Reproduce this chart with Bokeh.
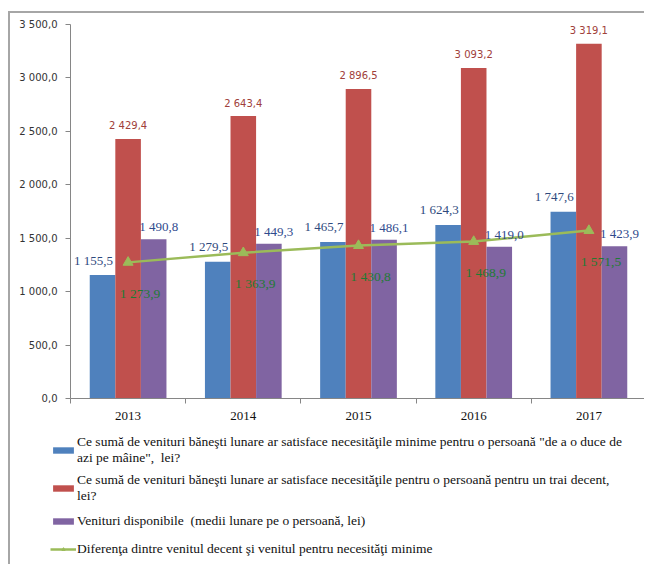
from bokeh.plotting import figure
from bokeh.models import FixedTicker, Legend, LegendItem, ColumnDataSource
from bokeh.transform import dodge
from bokeh.embed import file_html
from bokeh.resources import INLINE
from bokeh.core.properties import value

# ---- data ----
years = ["2013", "2014", "2015", "2016", "2017"]
minim = [1155.5, 1279.5, 1465.7, 1624.3, 1747.6]
decent = [2429.4, 2643.4, 2896.5, 3093.2, 3319.1]
disponibile = [1490.8, 1449.3, 1486.1, 1419.0, 1423.9]
diferenta = [1273.9, 1363.9, 1430.8, 1468.9, 1571.5]
y_ticks = [0, 500, 1000, 1500, 2000, 2500, 3000, 3500]
y_tick_labels = ["0,0", "500,0", "1 000,0", "1 500,0", "2 000,0", "2 500,0", "3 000,0", "3 500,0"]
series_names = [
    'Ce sumă de venituri băneşti lunare ar satisface necesităţile minime pentru o persoană "de a o duce de\nazi pe mâine",  lei?',
    'Ce sumă de venituri băneşti lunare ar satisface necesităţile pentru o persoană pentru un trai decent,\nlei?',
    'Venituri disponibile  (medii lunare pe o persoană, lei)',
    'Diferenţa dintre venitul decent şi venitul pentru necesităţi minime',
]
colors = ["#4F81BD", "#C0504D", "#8064A2", "#9BBB59"]


def fmt(v):
    return f"{v:,.1f}".replace(",", " ").replace(".", ",")


xs = [i + 0.5 for i in range(len(years))]
src = ColumnDataSource(dict(
    x=xs, minim=minim, decent=decent, disp=disponibile, dif=diferenta,
    minim_l=[fmt(v) for v in minim], decent_l=[fmt(v) for v in decent],
    disp_l=[fmt(v) for v in disponibile], dif_l=[fmt(v) for v in diferenta],
))

BW = 0.222
p = figure(width=636, height=415, x_range=(0, len(years)), y_range=(0, 3500),
           output_backend="svg", toolbar_location=None,
           min_border_left=60, min_border_right=0, min_border_top=11, min_border_bottom=30)
p.styles = {"margin-left": "8px", "margin-top": "11px",
            "border-top": "2px solid #A6A6A6", "border-left": "2px solid #A6A6A6"}
p.outline_line_color = None
p.xgrid.visible = False
p.ygrid.visible = False

r1 = p.vbar(x=dodge("x", -BW), top="minim", width=BW, source=src, color=colors[0], line_color=None)
r2 = p.vbar(x="x", top="decent", width=BW, source=src, color=colors[1], line_color=None)
r3 = p.vbar(x=dodge("x", BW), top="disp", width=BW, source=src, color=colors[2], line_color=None)
r4 = p.line("x", "dif", source=src, line_width=2.5, color=colors[3])
r5 = p.scatter("x", "dif", source=src, marker="triangle", size=10, color=colors[3])

serif = value("Liberation Serif")
p.text(x=dodge("x", -BW), y="minim", text="minim_l", source=src, x_offset=-9, y_offset=-15,
       text_align="center", text_baseline="middle", text_font=serif, text_font_size="13px", text_color="#2F4A7D")
p.text(x="x", y="decent", text="decent_l", source=src, y_offset=-13,
       text_align="center", text_baseline="middle", text_font=value("DejaVu Sans"), text_font_size="10px", text_color="#A0403A")
p.text(x=dodge("x", BW), y="disp", text="disp_l", source=src, x_offset=5, y_offset=-12.5,
       text_align="center", text_baseline="middle", text_font=serif, text_font_size="13px", text_color="#2F4A8D")
p.text(x="x", y="dif", text="dif_l", source=src, x_offset=12, y_offset=31,
       text_align="center", text_baseline="middle", text_font=serif, text_font_size="13.5px", text_color="#1E7B34")

# axes
p.yaxis.ticker = FixedTicker(ticks=y_ticks, minor_ticks=[])
p.yaxis.major_label_overrides = {t: l for t, l in zip(y_ticks, y_tick_labels)}
p.yaxis.axis_line_color = "#868686"
p.yaxis.major_tick_line_color = "#868686"
p.yaxis.major_tick_out = 5
p.yaxis.major_tick_in = 0
p.yaxis.minor_tick_line_color = None
p.yaxis.major_label_standoff = 8
p.yaxis.major_label_text_font = "DejaVu Sans"
p.yaxis.major_label_text_font_size = "10px"
p.yaxis.major_label_text_color = "#333333"

p.xaxis.ticker = FixedTicker(ticks=xs, minor_ticks=list(range(len(years) + 1)))
p.xaxis.major_label_overrides = {x: y for x, y in zip(xs, years)}
p.xaxis.axis_line_color = "#868686"
p.xaxis.major_tick_line_color = None
p.xaxis.major_tick_out = 0
p.xaxis.major_tick_in = 0
p.xaxis.minor_tick_line_color = "#868686"
p.xaxis.minor_tick_out = 5
p.xaxis.minor_tick_in = 0
p.xaxis.major_label_standoff = 8
p.xaxis.major_label_text_font = "Liberation Serif"
p.xaxis.major_label_text_font_size = "13px"
p.xaxis.major_label_text_color = "#111111"

# ---- legend panel: same series styles, data kept out of this panel's view ----
q = figure(width=636, height=138, x_range=(-20, -19), y_range=(-20, -19),
           output_backend="svg", toolbar_location=None,
           x_axis_location=None, y_axis_location=None,
           min_border_left=40, min_border_right=0, min_border_top=8, min_border_bottom=0)
q.styles = {"margin-left": "8px", "border-left": "2px solid #A6A6A6"}
q.outline_line_color = None
q.xgrid.visible = False
q.ygrid.visible = False
l1 = q.vbar(x="x", top="minim", width=BW, source=src, color=colors[0], line_color=None)
l2 = q.vbar(x="x", top="decent", width=BW, source=src, color=colors[1], line_color=None)
l3 = q.vbar(x="x", top="disp", width=BW, source=src, color=colors[2], line_color=None)
l4 = q.line("x", "dif", source=src, line_width=2.5, color=colors[3])
l5 = q.scatter("x", "dif", source=src, marker="triangle", size=10, color=colors[3])

legend = Legend(items=[
    LegendItem(label=series_names[0], renderers=[l1]),
    LegendItem(label=series_names[1], renderers=[l2]),
    LegendItem(label=series_names[2], renderers=[l3]),
    LegendItem(label=series_names[3], renderers=[l4, l5]),
], location="top_left")
legend.border_line_color = None
legend.background_fill_alpha = 0
legend.padding = 0
legend.margin = 0
legend.spacing = 6
legend.glyph_width = 26
legend.glyph_height = 8
legend.label_standoff = 1
legend.label_height = 22
legend.label_text_font = "Liberation Serif"
legend.label_text_font_size = "13.5px"
legend.label_text_line_height = 1.1
legend.label_text_color = "#111111"
q.add_layout(legend)

open("out.html", "w").write(file_html([p, q], INLINE))
